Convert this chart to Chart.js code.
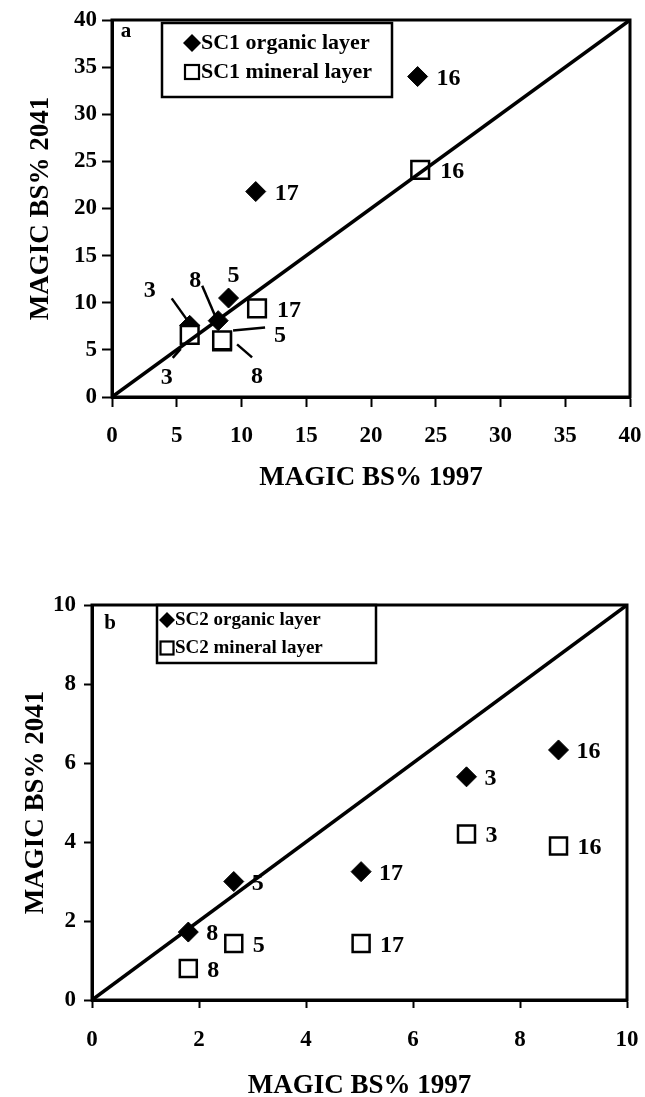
<!DOCTYPE html>
<html>
<head>
<meta charset="utf-8">
<script src="https://cdn.jsdelivr.net/npm/chart.js@4.4.0/dist/chart.umd.min.js"></script>
<style>
html, body { margin: 0; padding: 0; background: #fff; overflow: hidden; }
#wrap { position: relative; width: 645px; height: 1097px; }
.panel { position: absolute; left: 0; width: 645px; }
canvas { display: block; }
</style>
</head>
<body>
<div id="wrap">
  <div class="panel" style="top:0;height:510px"><canvas id="chartA"></canvas></div>
  <div class="panel" style="top:510px;height:587px"><canvas id="chartB"></canvas></div>
</div>
<script>
// Panel a - SC1
const sitesA = ['3', '8', '5', '17', '16'];
const orgXA = [6.0, 8.2, 9.0, 11.1, 23.6];
const orgYA = [7.6, 8.1, 10.5, 21.8, 34.0];
const minXA = [6.0, 8.5, 8.5, 11.2, 23.8];
const minYA = [6.6, 5.9, 6.0, 9.4, 24.1];
const ticksA = [0, 5, 10, 15, 20, 25, 30, 35, 40];
const oneToOneA = [0, 40];

// Panel b - SC2
const sitesB = ['8', '5', '17', '3', '16'];
const orgXB = [1.8, 2.65, 5.03, 7.0, 8.72];
const orgYB = [1.72, 3.0, 3.25, 5.65, 6.33];
const minXB = [1.8, 2.65, 5.03, 7.0, 8.72];
const minYB = [0.8, 1.43, 1.43, 4.2, 3.9];
const ticksB = [0, 2, 4, 6, 8, 10];
const oneToOneB = [0, 10];

const FONT = "'Liberation Serif', 'Times New Roman', 'DejaVu Serif', serif";

// where the site numbers go (pixel offsets from the marker), null = plain right side
const placeOrgA = [
    {dx: -40, dy: -35, line: [-18, -27, -3, -6]},
    {dx: -23, dy: -40, line: [-16, -35, -1, 0]},
    {dx: 5, dy: -22},
    null, null
];
const placeMinA = [
    {dx: -23, dy: 43, line: [-17, 23, -9, 14]},
    {dx: 35, dy: 35, line: [30, 16, 15, 3]},
    {dx: 58, dy: -5, line: [43, -13, 11, -10]},
    null, null
];

function decorPlugin(o) {
    return {
        id: 'decor',
        afterDatasetsDraw(chart) {
            const ctx = chart.ctx, a = chart.chartArea;
            ctx.save();
            ctx.strokeStyle = '#000';
            ctx.fillStyle = '#000';
            ctx.lineWidth = 3;
            ctx.strokeRect(a.left, a.top, a.right - a.left, a.bottom - a.top);

            // site labels
            ctx.font = 'bold ' + o.labelSize + 'px ' + FONT;
            ctx.textBaseline = 'middle';
            o.labels.forEach(lb => {
                const meta = chart.getDatasetMeta(lb.ds);
                meta.data.forEach((pt, i) => {
                    const p = lb.place ? lb.place[i] : null;
                    if (p) {
                        ctx.textAlign = 'center';
                        ctx.fillText(lb.text[i], pt.x + p.dx, pt.y + p.dy);
                        if (p.line) {
                            ctx.lineWidth = 2.5;
                            ctx.beginPath();
                            ctx.moveTo(pt.x + p.line[0], pt.y + p.line[1]);
                            ctx.lineTo(pt.x + p.line[2], pt.y + p.line[3]);
                            ctx.stroke();
                        }
                    } else {
                        ctx.textAlign = 'left';
                        ctx.fillText(lb.text[i], pt.x + lb.gap, pt.y + 2);
                    }
                });
            });

            // panel letter
            ctx.font = 'bold ' + o.letter.size + 'px ' + FONT;
            ctx.textAlign = 'center';
            ctx.fillText(o.letter.text, o.letter.x, o.letter.y);

            // legend box
            const L = o.legend;
            ctx.lineWidth = 2.5;
            ctx.strokeRect(L.x1, L.y1, L.x2 - L.x1, L.y2 - L.y1);
            ctx.font = 'bold ' + L.size + 'px ' + FONT;
            ctx.textAlign = 'left';
            L.rows.forEach(r => {
                if (r.kind === 'dm') {
                    ctx.beginPath();
                    ctx.moveTo(L.sx, r.y - L.r);
                    ctx.lineTo(L.sx + L.r, r.y);
                    ctx.lineTo(L.sx, r.y + L.r);
                    ctx.lineTo(L.sx - L.r, r.y);
                    ctx.closePath();
                    ctx.fill();
                } else {
                    ctx.lineWidth = 2.2;
                    ctx.strokeRect(L.sx - L.q, r.y - L.q, 2 * L.q, 2 * L.q);
                }
                ctx.fillText(r.text, L.tx, r.y);
            });
            ctx.restore();
        }
    };
}

function pts(xs, ys) {
    return xs.map((x, i) => ({x: x, y: ys[i]}));
}

function makeChart(id, o) {
    const tickFont = {family: FONT, size: 23, weight: 'bold', lineHeight: 1};
    const titleFont = {family: FONT, size: 27, weight: 'bold', lineHeight: 0.8};
    return new Chart(document.getElementById(id), {
        type: 'scatter',
        data: {
            datasets: [{
                data: pts(o.line, o.line),
                showLine: true,
                borderColor: '#000',
                borderWidth: 3.5,
                pointRadius: 0
            }, {
                data: pts(o.minX, o.minY),
                pointStyle: 'rect',
                pointRadius: o.sq,
                backgroundColor: '#fff',
                borderColor: '#000',
                borderWidth: 2.5
            }, {
                data: pts(o.orgX, o.orgY),
                pointStyle: 'rectRot',
                pointRadius: o.dm,
                backgroundColor: '#000',
                borderColor: '#000',
                borderWidth: 1
            }]
        },
        plugins: [decorPlugin(o.decor)],
        options: {
            responsive: true,
            maintainAspectRatio: false,
            animation: false,
            events: [],
            layout: {padding: o.pad},
            plugins: {
                legend: {display: false},
                tooltip: {enabled: false}
            },
            scales: {
                x: {
                    type: 'linear',
                    min: o.ticks[0],
                    max: o.ticks[o.ticks.length - 1],
                    afterBuildTicks: s => { s.ticks = o.ticks.map(v => ({value: v})); },
                    afterFit: s => { s.height = o.xH; s.paddingLeft = 0; s.paddingRight = 0; },
                    grid: {drawOnChartArea: false, drawTicks: true, tickLength: o.tl, tickWidth: 2, tickColor: '#000'},
                    border: {display: true, color: '#000', width: 3},
                    ticks: {color: '#000', padding: o.xTickPad, font: tickFont, maxRotation: 0, autoSkip: false},
                    title: {display: true, text: 'MAGIC BS% 1997', color: '#000', font: titleFont,
                        padding: {top: 0, bottom: o.xTitlePad}}
                },
                y: {
                    type: 'linear',
                    min: o.ticks[0],
                    max: o.ticks[o.ticks.length - 1],
                    afterBuildTicks: s => { s.ticks = o.ticks.map(v => ({value: v})); },
                    afterFit: s => { s.width = o.yW; s.paddingTop = 0; s.paddingBottom = 0; },
                    grid: {drawOnChartArea: false, drawTicks: true, tickLength: o.tl, tickWidth: 2, tickColor: '#000'},
                    border: {display: true, color: '#000', width: 3},
                    ticks: {color: '#000', padding: o.yTickPad, font: tickFont, autoSkip: false},
                    title: {display: true, text: 'MAGIC BS% 2041', color: '#000', font: titleFont,
                        padding: {top: o.yTitlePad, bottom: 0}}
                }
            }
        }
    });
}

makeChart('chartA', {
    line: oneToOneA, orgX: orgXA, orgY: orgYA, minX: minXA, minY: minYA, ticks: ticksA,
    sq: 12.5, dm: 10,
    pad: {left: 0, top: 20, right: 15, bottom: 0},
    xH: 113, yW: 112, tl: 10,
    xTickPad: 18, yTickPad: 5, xTitlePad: 21, yTitlePad: 30,
    decor: {
        labelSize: 24,
        labels: [
            {ds: 2, text: sitesA, gap: 19, place: placeOrgA},
            {ds: 1, text: sitesA, gap: 20, place: placeMinA}
        ],
        letter: {text: 'a', x: 126, y: 32, size: 21},
        legend: {
            x1: 162, y1: 23, x2: 392, y2: 97, size: 22, sx: 192, tx: 201, r: 9, q: 7,
            rows: [
                {kind: 'dm', text: 'SC1 organic layer', y: 43},
                {kind: 'sq', text: 'SC1 mineral layer', y: 72}
            ]
        }
    }
});

makeChart('chartB', {
    line: oneToOneB, orgX: orgXB, orgY: orgYB, minX: minXB, minY: minYB, ticks: ticksB,
    sq: 12, dm: 10,
    pad: {left: 0, top: 95, right: 18, bottom: 0},
    xH: 97, yW: 92, tl: 8,
    xTickPad: 21, yTickPad: 8, xTitlePad: 0, yTitlePad: 25,
    decor: {
        labelSize: 24,
        labels: [
            {ds: 2, text: sitesB, gap: 18, place: null},
            {ds: 1, text: sitesB, gap: 19, place: null}
        ],
        letter: {text: 'b', x: 110, y: 114, size: 21},
        legend: {
            x1: 157, y1: 95, x2: 376, y2: 153, size: 19, sx: 167, tx: 175, r: 8, q: 6.5,
            rows: [
                {kind: 'dm', text: 'SC2 organic layer', y: 110},
                {kind: 'sq', text: 'SC2 mineral layer', y: 138}
            ]
        }
    }
});
</script>
</body>
</html>
